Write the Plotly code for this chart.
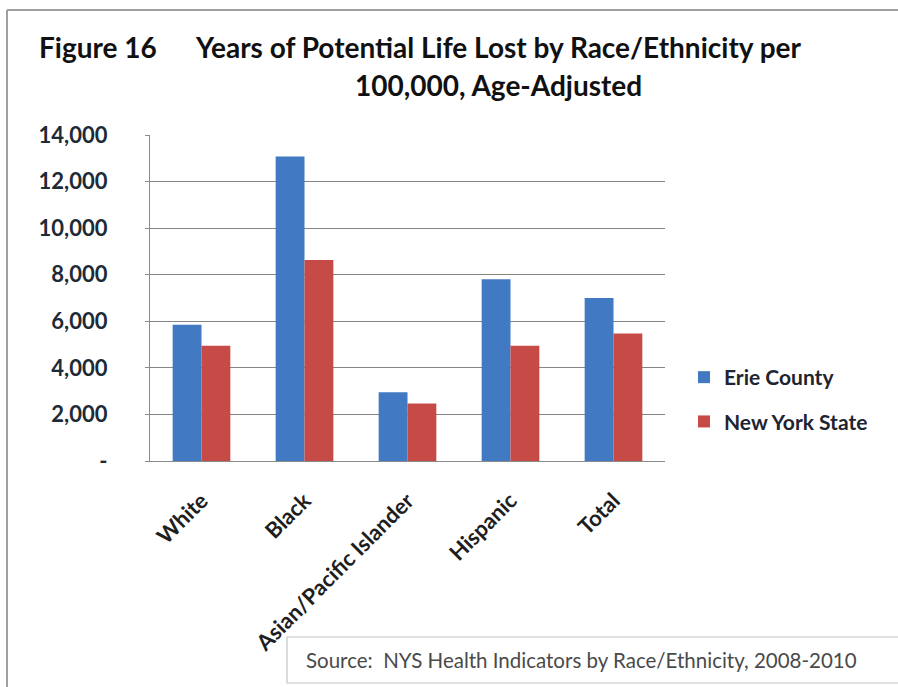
import plotly.graph_objects as go

# Data: Years of Potential Life Lost per 100,000, age-adjusted
categories = ["White", "Black", "Asian/Pacific Islander", "Hispanic", "Total"]
erie_county = [5850, 13080, 2950, 7800, 7000]
new_york_state = [4950, 8630, 2470, 4950, 5480]
y_tick_values = [0, 2000, 4000, 6000, 8000, 10000, 12000, 14000]
y_tick_labels = ["-", "2,000", "4,000", "6,000", "8,000", "10,000", "12,000", "14,000"]

W, H = 898, 687
L, R, T, B = 150, 665, 135, 461  # plot area in pixels


def px(x):
    return (x - L) / (R - L)


def py(y):
    return (B - y) / (B - T)


FONT = "Lato"
BLUE = "#4179C2"
RED = "#C64A45"

fig = go.Figure()
fig.add_trace(go.Bar(x=categories, y=erie_county, name="Erie County",
                     marker=dict(color=BLUE, line=dict(width=0)),
                     legendgroup="a"))
fig.add_trace(go.Bar(x=categories, y=new_york_state, name="New York State",
                     marker=dict(color=RED, line=dict(width=0)),
                     legendgroup="b"))

fig.update_layout(
    width=W, height=H,
    margin=dict(l=L, r=W - R, t=T, b=H - B, pad=0),
    paper_bgcolor="white", plot_bgcolor="white",
    barmode="group", bargap=0.44, bargroupgap=0,
    font=dict(family=FONT, color="#1E1E1E"),
    showlegend=True,
    legend=dict(x=px(684), y=py(357), xanchor="left", yanchor="top",
                font=dict(size=21, family=FONT, color="#1E2430", weight="bold"),
                traceorder="grouped", tracegroupgap=14,
                itemwidth=30, bgcolor="rgba(0,0,0,0)"),
    xaxis=dict(
        tickangle=-45,
        tickfont=dict(size=22, family=FONT, color="#1E1E1E", weight="bold"),
        ticklabelstandoff=17,
        showline=True, linecolor="#8A8A8A", linewidth=1.3,
        showgrid=False, ticks="", fixedrange=True,
    ),
    yaxis=dict(
        range=[0, 14000],
        tickvals=y_tick_values, ticktext=y_tick_labels,
        tickfont=dict(size=22, family=FONT, color="#1E2A36", weight="bold"),
        ticklabelstandoff=33,
        showline=True, linecolor="#8A8A8A", linewidth=1.3,
        showgrid=True, gridcolor="#858585", gridwidth=1.3,
        ticks="outside", ticklen=4, tickcolor="#8A8A8A",
        zeroline=False, fixedrange=True,
    ),
)

# Outer chart frame (left and top edges)
fig.add_shape(type="line", xref="paper", yref="paper",
              x0=px(7), x1=px(7), y0=py(10), y1=py(700),
              line=dict(color="#A0A0A0", width=2))
fig.add_shape(type="line", xref="paper", yref="paper",
              x0=px(7), x1=px(910), y0=py(10), y1=py(10),
              line=dict(color="#A0A0A0", width=2))

# Source box
fig.add_shape(type="rect", xref="paper", yref="paper",
              x0=px(287), x1=px(910), y0=py(637), y1=py(683),
              line=dict(color="#C4C4C4", width=1.2), fillcolor="white",
              layer="above")
fig.add_annotation(xref="paper", yref="paper", x=px(304), y=py(660),
                   xanchor="left", yanchor="middle", showarrow=False,
                   text="Source:  NYS Health Indicators by Race/Ethnicity, 2008-2010",
                   font=dict(size=20.5, family=FONT, color="#4A4A4A"))

# Title
title_font = dict(size=28, family=FONT, color="#111111", weight="bold")
fig.add_annotation(xref="paper", yref="paper", x=px(37), y=py(47),
                   xanchor="left", yanchor="middle", showarrow=False,
                   text="Figure 16", font=title_font)
fig.add_annotation(xref="paper", yref="paper", x=px(498), y=py(47),
                   xanchor="center", yanchor="middle", showarrow=False,
                   text="Years of Potential Life Lost by Race/Ethnicity per",
                   font=title_font)
fig.add_annotation(xref="paper", yref="paper", x=px(498), y=py(85),
                   xanchor="center", yanchor="middle", showarrow=False,
                   text="100,000, Age-Adjusted", font=title_font)

fig.write_html("out.html")
